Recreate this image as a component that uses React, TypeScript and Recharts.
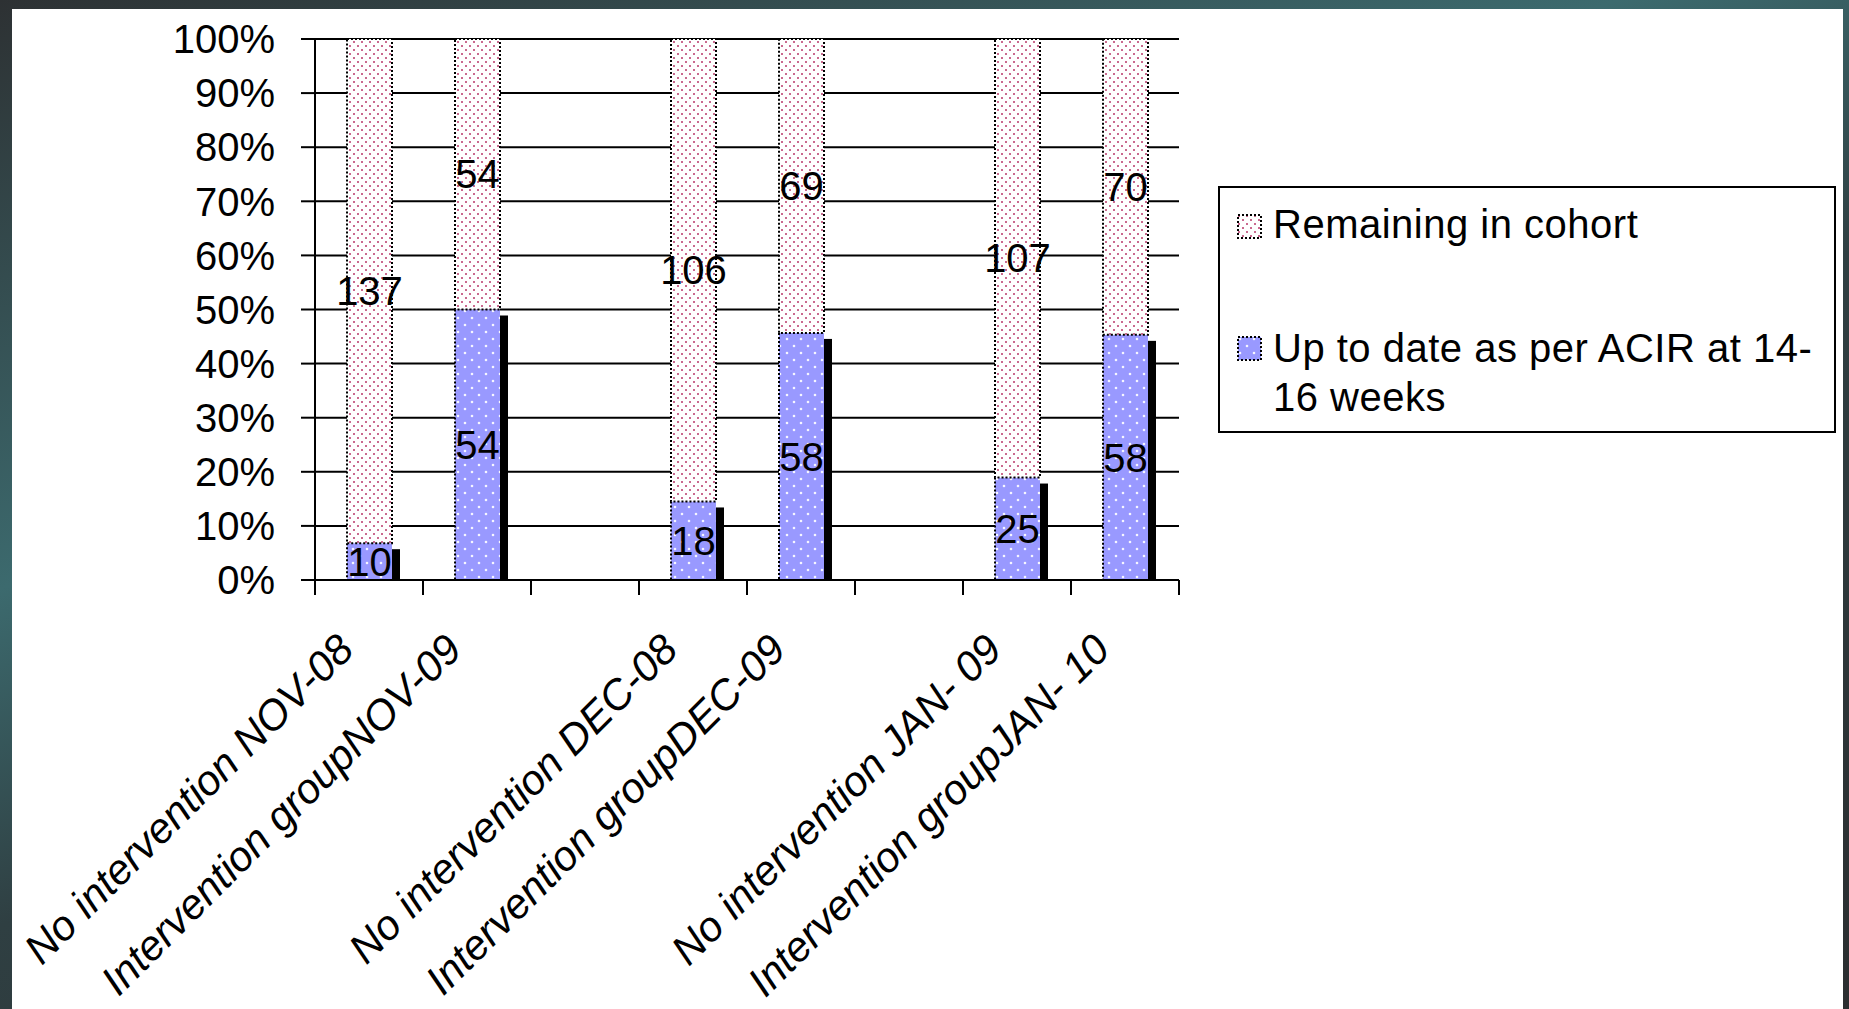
import React from 'react';
import { BarChart, Bar, XAxis, YAxis, CartesianGrid, Legend, LabelList } from 'recharts';

// categories (blank slots separate the month pairs)
const categories = [
  'No intervention NOV-08',
  'Intervention groupNOV-09',
  '',
  'No intervention DEC-08',
  'Intervention groupDEC-09',
  ' ',
  'No intervention JAN- 09',
  'Intervention groupJAN- 10',
];
const upToDate = [10, 54, null, 18, 58, null, 25, 58];
const remaining = [137, 54, null, 106, 69, null, 107, 70];
const yTicks = [0, 0.1, 0.2, 0.3, 0.4, 0.5, 0.6, 0.7, 0.8, 0.9, 1];

const UP_NAME = 'Up to date as per ACIR at 14-16 weeks';
const REM_NAME = 'Remaining in cohort';
const legendOrder = ['remaining', 'up'];

const data = categories.map((name, i) => ({
  name,
  up: upToDate[i],
  remaining: remaining[i],
}));

const FONT = '"Liberation Sans", Arial, sans-serif';
const W = 1849;
const H = 1009;
const PLOT_LEFT = 315;
const PLOT_TOP = 39;
const PLOT_RIGHT = 1179;
const PLOT_BOTTOM = 580;
const BAND = (PLOT_RIGHT - PLOT_LEFT) / categories.length;

const XTick = (props: any) => {
  const { x, y, payload, index } = props;
  const lx = x - 13;
  const ly = y + 72;
  const label = String(payload.value).trim();
  return (
    <g>
      <line x1={x - BAND / 2} y1={y} x2={x - BAND / 2} y2={y + 15} stroke="#000" strokeWidth={2} />
      {index === categories.length - 1 && (
        <line x1={x + BAND / 2} y1={y} x2={x + BAND / 2} y2={y + 15} stroke="#000" strokeWidth={2} />
      )}
      {label && (
        <text
          x={lx}
          y={ly}
          transform={`rotate(-45 ${lx} ${ly})`}
          textAnchor="end"
          fontStyle="italic"
          fontSize={42}
          fontFamily={FONT}
          fill="#000"
        >
          {payload.value}
        </text>
      )}
    </g>
  );
};

const UpShape = (p: any) => {
  const { x, y, width, height } = p;
  if (!height || height <= 0) return null;
  return (
    <g>
      <rect x={x + width - 1} y={y + 6} width={9} height={height - 6} fill="#000" />
      <rect x={x} y={y} width={width} height={height} fill="url(#bluePat)" />
      <line x1={x} y1={y} x2={x} y2={y + height} stroke="#000" strokeWidth={2} strokeDasharray="2 2" />
    </g>
  );
};

const RemShape = (p: any) => {
  const { x, y, width, height } = p;
  if (!height || height <= 0) return null;
  return (
    <rect
      x={x}
      y={y}
      width={width}
      height={height}
      fill="url(#pinkPat)"
      stroke="#000"
      strokeWidth={2}
      strokeDasharray="2 2"
    />
  );
};

const LegendBox = ({ payload }: any) => {
  const items = legendOrder
    .map((key) => (payload || []).find((p: any) => p.dataKey === key))
    .filter(Boolean);
  const rows = [
    { swatchTop: 26, textTop: 12 },
    { swatchTop: 148, textTop: 136 },
  ];
  return (
    <div
      style={{
        position: 'relative',
        width: 618,
        height: 247,
        boxSizing: 'border-box',
        border: '2px solid #000',
        background: '#fff',
        fontFamily: FONT,
        fontSize: 40,
        lineHeight: '49px',
        letterSpacing: '0.5px',
        color: '#000',
      }}
    >
      {items.map((item: any, i: number) => (
        <div key={item.value} style={{ position: 'absolute', left: 0, top: 0 }}>
          <svg width={26} height={26} style={{ position: 'absolute', left: 17, top: rows[i].swatchTop }}>
            <rect
              x={1}
              y={1}
              width={23}
              height={23}
              fill={item.dataKey === 'up' ? 'url(#bluePat)' : 'url(#pinkPat)'}
              stroke="#000"
              strokeWidth={2}
              strokeDasharray="2 2"
            />
          </svg>
          <div
            style={{
              position: 'absolute',
              left: 53,
              top: rows[i].textTop,
              whiteSpace: 'pre',
            }}
          >
            {String(item.value).replace('14-', '14-\n')}
          </div>
        </div>
      ))}
    </div>
  );
};

export default function App() {
  return (
    <div
      style={{
        position: 'absolute',
        left: 0,
        top: 0,
        width: W,
        height: H,
        overflow: 'hidden',
        background: 'linear-gradient(160deg, #2d3133 0%, #3c6a6e 35%, #2f3f42 55%, #2b2e30 100%)',
      }}
    >
      <div style={{ position: 'absolute', left: 12, top: 9, width: 1831, height: 1000, background: '#fff' }} />
      <div style={{ position: 'absolute', left: 0, top: 0 }}>
        <BarChart
          width={W}
          height={H}
          data={data}
          stackOffset="expand"
          margin={{ top: PLOT_TOP, right: W - PLOT_RIGHT, bottom: 0, left: 0 }}
        >
          <defs>
            <pattern id="pinkPat" width={8} height={8} patternUnits="userSpaceOnUse">
              <rect width={8} height={8} fill="#fff" />
              <circle cx={2} cy={2} r={1} fill="#b8386a" />
              <circle cx={6} cy={6} r={1} fill="#b8386a" />
            </pattern>
            <pattern id="bluePat" width={14} height={14} patternUnits="userSpaceOnUse">
              <rect width={14} height={14} fill="#9999ff" />
              <circle cx={3} cy={3} r={1.3} fill="#ffffff" opacity={0.9} />
              <circle cx={10} cy={10} r={1.3} fill="#ffffff" opacity={0.9} />
            </pattern>
          </defs>
          <CartesianGrid vertical={false} stroke="#000" strokeWidth={2} />
          <XAxis
            dataKey="name"
            height={H - PLOT_BOTTOM}
            interval={0}
            tickSize={0}
            tickMargin={0}
            tickLine={false}
            axisLine={{ stroke: '#000', strokeWidth: 2 }}
            tick={<XTick />}
          />
          <YAxis
            type="number"
            domain={[0, 1]}
            ticks={yTicks}
            interval={0}
            width={PLOT_LEFT}
            tickSize={14}
            tickMargin={26}
            tickFormatter={(v: number) => `${Math.round(v * 100)}%`}
            axisLine={{ stroke: '#000', strokeWidth: 2 }}
            tickLine={{ stroke: '#000', strokeWidth: 2 }}
            tick={{ fill: '#000', fontSize: 40, fontFamily: FONT }}
          />
          <Legend
            layout="horizontal"
            verticalAlign="middle"
            align="center"
            content={<LegendBox />}
            wrapperStyle={{ position: 'absolute', left: 1218, top: 186, width: 618, height: 247 }}
          />
          <Bar dataKey="up" name={UP_NAME} stackId="a" barSize={45} shape={<UpShape />} isAnimationActive={false}>
            <LabelList dataKey="up" position="center" fill="#000" fontSize={40} fontFamily={FONT} />
          </Bar>
          <Bar dataKey="remaining" name={REM_NAME} stackId="a" barSize={45} shape={<RemShape />} isAnimationActive={false}>
            <LabelList dataKey="remaining" position="center" fill="#000" fontSize={40} fontFamily={FONT} />
          </Bar>
        </BarChart>
      </div>
    </div>
  );
}
